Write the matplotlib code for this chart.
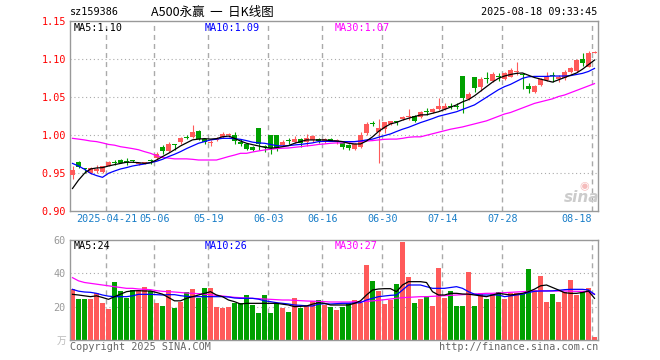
import matplotlib.pyplot as plt

# 日K数据 (2025-04-11 .. 2025-08-18), 88 根
opens = [0.948, 0.965, 0.957, 0.951, 0.953, 0.952, 0.960, 0.965, 0.968, 0.9655,
         0.967, 0.962, 0.963, 0.967, 0.970, 0.984, 0.980, 0.988, 0.991, 0.998,
         0.998, 1.006, 0.995, 0.990, 0.994, 0.998, 1.000, 1.000, 0.991, 0.988,
         0.985, 1.010, 0.9845, 1.000, 1.000, 0.987, 0.993, 0.9917, 0.995, 0.9908,
         0.9934, 0.995, 0.9917, 0.9956, 0.992, 0.990, 0.9868, 0.982, 0.984, 1.0035,
         1.0158, 1.0044, 1.008, 1.0145, 1.018, 1.022, 1.0237, 1.0254, 1.0246, 1.0303,
         1.0303, 1.0346, 1.0342, 1.0378, 1.0378, 1.078, 1.048, 1.0763, 1.064, 1.0743,
         1.072, 1.0775, 1.0741, 1.0772, 1.0835, 1.081, 1.065, 1.0566, 1.0662, 1.0722,
         1.0784, 1.0735, 1.075, 1.0838, 1.084, 1.100, 1.0904, 1.1085]
highs = [0.960, 0.966, 0.957, 0.958, 0.961, 0.960, 0.966, 0.967, 0.969, 0.970,
         0.968, 0.963, 0.964, 0.9685, 0.978, 0.987, 0.991, 0.988, 0.998, 1.000,
         1.013, 1.007, 0.996, 0.994, 0.998, 1.004, 1.003, 1.005, 0.995, 0.989,
         0.986, 1.010, 0.987, 1.001, 1.000, 0.994, 0.996, 0.999, 0.996, 1.002,
         1.0004, 0.9965, 0.997, 0.996, 0.995, 0.991, 0.988, 0.9895, 1.004, 1.018,
         1.019, 1.021, 1.018, 1.019, 1.019, 1.0254, 1.0346, 1.0267, 1.0325, 1.0355,
         1.0364, 1.0496, 1.042, 1.043, 1.043, 1.078, 1.0575, 1.0765, 1.077, 1.0838,
         1.083, 1.0816, 1.0838, 1.089, 1.097, 1.0816, 1.069, 1.066, 1.0755, 1.083,
         1.0835, 1.079, 1.086, 1.0904, 1.1005, 1.108, 1.111, 1.111]
lows = [0.943, 0.957, 0.950, 0.949, 0.951, 0.951, 0.959, 0.961, 0.963, 0.961,
        0.965, 0.961, 0.962, 0.962, 0.968, 0.976, 0.978, 0.981, 0.988, 0.995,
        0.996, 0.994, 0.988, 0.986, 0.992, 0.997, 0.998, 0.989, 0.986, 0.981,
        0.979, 0.981, 0.978, 0.975, 0.980, 0.986, 0.989, 0.990, 0.984, 0.986,
        0.9917, 0.990, 0.990, 0.992, 0.988, 0.982, 0.981, 0.981, 0.983, 1.001,
        1.012, 0.964, 1.003, 1.013, 1.0136, 1.020, 1.020, 1.018, 1.023, 1.0268,
        1.029, 1.0333, 1.033, 1.034, 1.034, 1.030, 1.0465, 1.0566, 1.0583, 1.0693,
        1.0706, 1.0715, 1.0728, 1.0763, 1.079, 1.0615, 1.0553, 1.0553, 1.065, 1.0715,
        1.070, 1.0706, 1.0728, 1.0825, 1.083, 1.091, 1.0895, 1.108]
closes = [0.954, 0.958, 0.956, 0.957, 0.956, 0.959, 0.965, 0.964, 0.964, 0.965,
          0.9665, 0.9625, 0.9635, 0.966, 0.976, 0.979, 0.988, 0.987, 0.997, 0.996,
          1.005, 0.995, 0.991, 0.991, 0.995, 1.002, 1.001, 0.992, 0.989, 0.982,
          0.981, 0.988, 0.984, 0.983, 0.983, 0.991, 0.9925, 0.995, 0.9895, 0.9965,
          0.9996, 0.992, 0.9952, 0.993, 0.993, 0.985, 0.9833, 0.988, 1.000, 1.0145,
          1.015, 1.0096, 1.018, 1.019, 1.0175, 1.024, 1.0259, 1.0193, 1.031, 1.0302,
          1.0346, 1.039, 1.039, 1.0375, 1.0376, 1.0487, 1.0544, 1.0627, 1.074, 1.074,
          1.0807, 1.077, 1.0816, 1.086, 1.0845, 1.080, 1.0605, 1.065, 1.0741, 1.078,
          1.0782, 1.0772, 1.0838, 1.088, 1.0995, 1.0947, 1.1088, 1.1095]
rising = [1, 0, 0, 1, 1, 1, 1, 0, 0, 0, 0, 1, 1, 0, 1, 0, 1, 0, 1, 0,
          1, 0, 0, 1, 1, 1, 1, 0, 0, 0, 0, 0, 0, 0, 0, 1, 0, 1, 0, 1,
          1, 0, 1, 0, 1, 0, 0, 1, 1, 1, 0, 1, 1, 1, 0, 1, 1, 0, 1, 0,
          1, 1, 1, 0, 0, 0, 1, 0, 1, 0, 1, 0, 1, 1, 1, 0, 0, 1, 1, 1,
          0, 1, 1, 1, 1, 0, 1, 1]

ma5 = [0.930, 0.941, 0.950, 0.9557, 0.957, 0.9575, 0.9596, 0.9614, 0.963, 0.9645,
       0.9645, 0.964, 0.963, 0.964, 0.9675, 0.972, 0.9763, 0.981, 0.986, 0.990,
       0.994, 0.995, 0.9956, 0.995, 0.9956, 0.998, 0.999, 0.996, 0.9925, 0.9895,
       0.9877, 0.986, 0.9842, 0.983, 0.9838, 0.985, 0.9864, 0.9895, 0.9917, 0.9939,
       0.9939, 0.9939, 0.9939, 0.993, 0.9925, 0.9917, 0.9895, 0.9886, 0.9886, 0.9925,
       0.998, 1.005, 1.0105, 1.015, 1.017, 1.020, 1.0224, 1.0246, 1.0268, 1.027,
       1.029, 1.031, 1.034, 1.037, 1.040, 1.044, 1.047, 1.052, 1.058, 1.064,
       1.070, 1.075, 1.078, 1.080, 1.0815, 1.082, 1.079, 1.076, 1.074, 1.072,
       1.070, 1.073, 1.076, 1.079, 1.082, 1.087, 1.093, 1.099]
ma10 = [0.963, 0.9596, 0.9553, 0.950, 0.947, 0.9447, 0.950, 0.953, 0.9557, 0.9575,
        0.9596, 0.961, 0.9623, 0.964, 0.9658, 0.9684, 0.972, 0.975, 0.9785, 0.9825,
        0.986, 0.9895, 0.9917, 0.9939, 0.995, 0.996, 0.996, 0.9956, 0.9947, 0.993,
        0.991, 0.990, 0.9895, 0.988, 0.9864, 0.986, 0.9864, 0.9873, 0.988, 0.989,
        0.990, 0.9917, 0.992, 0.992, 0.992, 0.9917, 0.9917, 0.9917, 0.9925, 0.9939,
        0.995, 0.9974, 0.9996, 1.0018, 1.005, 1.008, 1.0105, 1.0136, 1.0167, 1.0193,
        1.022, 1.025, 1.027, 1.029, 1.031, 1.034, 1.037, 1.040, 1.045, 1.050,
        1.055, 1.060, 1.064, 1.067, 1.071, 1.075, 1.077, 1.0775, 1.0775, 1.0775,
        1.078, 1.078, 1.078, 1.0785, 1.080, 1.0815, 1.084, 1.088]
ma30 = [0.996, 0.995, 0.9939, 0.9925, 0.9917, 0.990, 0.988, 0.987, 0.985, 0.9838,
        0.9825, 0.981, 0.9785, 0.9763, 0.9732, 0.971, 0.970, 0.969, 0.969, 0.969,
        0.9684, 0.9675, 0.9675, 0.9675, 0.9675, 0.9697, 0.972, 0.974, 0.9763, 0.9763,
        0.978, 0.9794, 0.9807, 0.9816, 0.9825, 0.983, 0.9833, 0.9842, 0.985, 0.986,
        0.9868, 0.988, 0.9886, 0.9895, 0.990, 0.990, 0.991, 0.9917, 0.992, 0.9925,
        0.993, 0.9939, 0.9947, 0.995, 0.995, 0.996, 0.9974, 0.998, 0.998, 1.000,
        1.002, 1.004, 1.006, 1.008, 1.0095, 1.011, 1.013, 1.015, 1.017, 1.019,
        1.022, 1.025, 1.028, 1.030, 1.033, 1.036, 1.039, 1.042, 1.044, 1.046,
        1.048, 1.051, 1.053, 1.056, 1.059, 1.062, 1.065, 1.068]

# 成交量 (万手)
volume = [30.4, 24.6, 24.6, 24.6, 28, 22.4, 18.6, 34.8, 29.4, 25.4,
          30, 30, 31.8, 29.4, 22.4, 20.4, 30, 19.4, 22.8, 28.8,
          30.6, 25.4, 31.2, 31.2, 19.8, 19.4, 19.8, 22.2, 22.2, 27,
          21, 16.4, 27, 16.4, 22.2, 19.4, 17, 25.2, 19.4, 20.4,
          23.4, 24, 21, 19.8, 18, 19.6, 22, 24, 22, 45,
          35.4, 29.4, 21.8, 24, 33.6, 58.8, 37.8, 22.2, 24.8, 26.4,
          20.4, 43.2, 25.2, 29.2, 20.4, 20.4, 40.8, 20.4, 28.2, 24.6,
          27.6, 28.8, 24.6, 28.2, 28.2, 27.6, 42.6, 30, 38.4, 22.8,
          27.6, 22.8, 28.8, 36, 27, 28.8, 31.2, 1.8]
vol_ma5 = [27.4, 27, 26.5, 26, 26.5, 25.5, 24.4, 26, 27.5, 29,
           29.5, 29.6, 29.4, 29.4, 28.5, 27.5, 25.5, 23.5, 23.5, 25,
           26, 27, 28, 29, 27, 26, 24, 23, 21.6, 22,
           22, 22, 22, 22, 22, 21.5, 21, 20, 20.2, 20.4,
           21.5, 22.4, 22, 21, 21, 21, 21, 22, 23.5, 27,
           30, 30.6, 30.8, 30.8, 29, 33, 35, 35, 35, 34.5,
           29, 27, 27, 28, 28, 27.6, 27.5, 27, 26.5, 26,
           27, 28, 27.5, 27, 27.5, 28, 29, 30.5, 32.5, 33,
           31.5, 30, 28.4, 28, 28, 28.5, 29.4, 25]
vol_ma10 = [30.4, 29.3, 28.8, 28.6, 28, 27, 26.3, 26, 26, 26,
            26.5, 27.4, 27.4, 27.4, 27.2, 27, 27.2, 27.2, 26.6, 26.2,
            26, 26, 26, 26, 26, 26, 25.8, 25.2, 25, 25,
            25, 24.5, 23.5, 23, 22.4, 22, 21.6, 21, 20.8, 20.5,
            20.4, 21.5, 21.8, 21.6, 21.8, 22, 22, 22.2, 22.4, 24,
            25, 26, 26.4, 26.8, 27, 30, 33, 33, 33, 32,
            31, 31, 31, 31.5, 32, 31, 29, 27.5, 27, 27,
            27, 27, 26, 26.5, 27, 27.5, 28.5, 29.2, 29.4, 29.4,
            29.5, 29.8, 30.2, 30.4, 30.4, 30.4, 30, 27.4]
vol_ma30 = [37.4, 35.5, 34.5, 34, 33.5, 33, 32.5, 32, 31.5, 31,
            31, 30.6, 30.4, 30.2, 29.6, 29.2, 29, 28.8, 28.5, 28.2,
            28, 27.8, 27.5, 27.2, 26.8, 26.4, 26, 25.6, 25.4, 25.2,
            25, 24.8, 24.6, 24.4, 24.2, 24, 24, 23.8, 23.6, 23.4,
            23.3, 23.2, 23, 22.8, 22.8, 22.8, 22.8, 22.9, 23, 23.2,
            23.5, 23.8, 24.2, 24.6, 25, 25.4, 25.6, 25.8, 26, 26,
            26.2, 26.4, 26.6, 26.8, 27, 27.2, 27.4, 27.6, 27.8, 28,
            28, 28.2, 28.4, 28.6, 28.8, 29, 29.2, 29.4, 29.5, 29.5,
            29.4, 29.4, 29.4, 29.3, 29.2, 29.2, 29, 27.5]

tick_idx = [6, 14, 23, 33, 42, 52, 62, 72, 87]
tick_labels = ["2025-04-21", "05-06", "05-19", "06-03", "06-16", "06-30", "07-14", "07-28", "08-18"]
price_ticks = [0.90, 0.95, 1.00, 1.05, 1.10, 1.15]
vol_ticks = [20, 40, 60]

RED = "#ff5a5a"
GREEN = "#00a000"
GRID = "#aaaaaa"
MONO = ["DejaVu Sans Mono", "Noto Sans CJK SC"]

W, H = 660, 360
fig = plt.figure(figsize=(W / 100, H / 100), dpi=100)
fig.patch.set_facecolor("white")

def px(x, y):
    return x / W, 1 - y / H

ax1 = fig.add_axes([70 / W, (H - 211.3) / H, 528 / W, 190 / H])
ax2 = fig.add_axes([70 / W, (H - 340) / H, 528 / W, 100 / H])

n = len(closes)
bw = 5 / 6
centers = [i + bw / 2 for i in range(n)]
colors = [RED if r else GREEN for r in rising]

for ax in (ax1, ax2):
    ax.set_xlim(0, n)
    for s in ax.spines.values():
        s.set_color("#999999")
        s.set_linewidth(1)
    for t in tick_idx:
        ax.axvline(t + 0.08, color=GRID, lw=1, ls=(0, (3.6, 2.9)), zorder=0)
    ax.tick_params(length=0)

# 上图: K线
ax1.set_ylim(0.90, 1.15)
for y in price_ticks[1:-1]:
    ax1.axhline(y, color=GRID, lw=0.8, ls=(0, (1, 2.5)), zorder=0)
for i in range(n):
    lo = min(opens[i], closes[i])
    h = max(abs(closes[i] - opens[i]), 0.0013)
    ax1.vlines(centers[i], lows[i], highs[i], color=colors[i], lw=0.8, zorder=2)
    ax1.bar(i, h, bottom=lo, width=bw, align="edge", color=colors[i], lw=0, zorder=3)
ax1.plot(centers, ma30, color="#ff00ff", lw=0.9, zorder=4)
ax1.plot(centers, ma10, color="#0000ff", lw=0.9, zorder=4)
ax1.plot(centers, ma5, color="black", lw=0.9, zorder=4)

ax1.set_yticks(price_ticks)
ax1.set_yticklabels(["%.2f" % v for v in price_ticks], color="red", family=MONO, fontsize=7.3)
ax1.tick_params(axis="y", pad=3)
ax1.set_xticks([t + 0.08 for t in tick_idx])
xlabels = ax1.set_xticklabels(tick_labels, color="#1a7ec8", family=MONO, fontsize=7.3)
xlabels[-1].set_horizontalalignment("right")
ax1.tick_params(axis="x", pad=2)

# 下图: 成交量
ax2.set_ylim(0, 60)
for y in [20, 40]:
    ax2.axhline(y, color=GRID, lw=0.8, ls=(0, (1, 2.5)), zorder=0)
ax2.bar(range(n), volume, width=bw, align="edge", color=colors, lw=0, zorder=2)
ax2.plot(centers, vol_ma30, color="#ff00ff", lw=0.9, zorder=4)
ax2.plot(centers, vol_ma10, color="#0000ff", lw=0.9, zorder=4)
ax2.plot(centers, vol_ma5, color="black", lw=0.9, zorder=4)
ax2.set_yticks(vol_ticks)
ax2.set_yticklabels([str(v) for v in vol_ticks], color="#999999", family=MONO, fontsize=7.3)
ax2.tick_params(axis="y", pad=3)
ax2.set_xticks([])

# 文字
fig.text(*px(70, 12), "sz159386", family=MONO, fontsize=7.3, va="center", ha="left")
fig.text(*px(151, 12), "A500永赢  一  日K线图", family=["Noto Sans CJK SC", "DejaVu Sans"],
         fontsize=9, va="center", ha="left")
fig.text(*px(597, 12), "2025-08-18 09:33:45", family=MONO, fontsize=7.3, va="center", ha="right")

fig.text(*px(74, 28), "MA5:%.2f" % 1.10, family=MONO, fontsize=7.3, va="center")
fig.text(*px(205, 28), "MA10:%.2f" % 1.09, family=MONO, fontsize=7.3, va="center", color="#0000ff")
fig.text(*px(335, 28), "MA30:%.2f" % 1.07, family=MONO, fontsize=7.3, va="center", color="#ff00ff")

fig.text(*px(74, 246), "MA5:24", family=MONO, fontsize=7.3, va="center")
fig.text(*px(205, 246), "MA10:26", family=MONO, fontsize=7.3, va="center", color="#0000ff")
fig.text(*px(335, 246), "MA30:27", family=MONO, fontsize=7.3, va="center", color="#ff00ff")

fig.text(*px(66, 341), "万", family=["Noto Sans CJK SC"], fontsize=7, va="center", ha="right", color="#bbbbbb")
fig.text(*px(70, 347), "Copyright 2025 SINA.COM", family=MONO, fontsize=7.3, va="center", color="#666666")
fig.text(*px(598, 347), "http://finance.sina.com.cn", family=MONO, fontsize=7.3, va="center",
         ha="right", color="#666666")

# 水印
fig.text(*px(582, 197), "sina", fontsize=11, fontweight="bold", style="italic", color="#cccccc",
         ha="center", va="center")
fig.text(*px(584, 186), "◉", fontsize=8, color="#f5bcbc", ha="center", va="center", family=["DejaVu Sans"])

fig.savefig("out.png", dpi=100)
